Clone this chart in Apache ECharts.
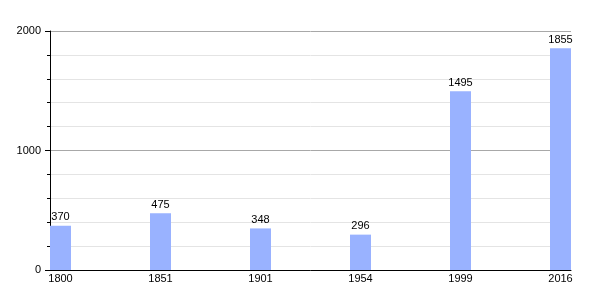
<!DOCTYPE html>
<html><head><meta charset="utf-8">
<script src="https://cdn.jsdelivr.net/npm/echarts@6/dist/echarts.min.js"></script>
<style>html,body{margin:0;padding:0;background:#fff}#c{width:600px;height:300px}</style>
</head><body><div id="c"></div>
<script>
var years = ['1800', '1851', '1901', '1954', '1999', '2016'];
var population = [370, 475, 348, 296, 1495, 1855];
var yTicks = [0, 1000, 2000];

var chart = echarts.init(document.getElementById('c'), null, {renderer: 'canvas'});
var font = 'Liberation Sans, Arial, sans-serif';
chart.setOption({
  animation: false,
  grid: {left: 50, right: 29, top: 31, bottom: 30},
  xAxis: {
    type: 'value', min: -0.105, max: 5.105,
    axisLine: {show: true, onZero: false, lineStyle: {color: '#000', width: 1}},
    axisTick: {show: false},
    splitLine: {show: false},
    axisLabel: {
      customValues: years.map(function(y, i){ return i; }),
      formatter: function(v){ return years[Math.round(v)]; },
      color: '#000', fontSize: 11, fontFamily: font, margin: 3
    }
  },
  yAxis: {
    type: 'value', min: yTicks[0], max: yTicks[yTicks.length-1], interval: 1000,
    axisLine: {show: true, onZero: false, lineStyle: {color: '#000', width: 1}},
    axisTick: {show: true, length: 5, lineStyle: {color: '#000'}},
    minorTick: {show: true, splitNumber: 5, length: 3, lineStyle: {color: '#000'}},
    splitLine: {show: true, lineStyle: {color: '#a8a8a8', width: 1}},
    minorSplitLine: {show: true, lineStyle: {color: '#e4e4e4', width: 1}},
    axisLabel: {color: '#000', fontSize: 11, fontFamily: font, margin: 9,
      formatter: function(v){ return String(v); }}
  },
  series: [{
    type: 'bar',
    data: population.map(function(v, i){ return [i, v]; }),
    barWidth: 21,
    itemStyle: {color: '#99b2ff'},
    label: {show: true, position: 'top', distance: 3, color: '#000', fontSize: 11, fontFamily: font}
  }]
});
</script></body></html>
